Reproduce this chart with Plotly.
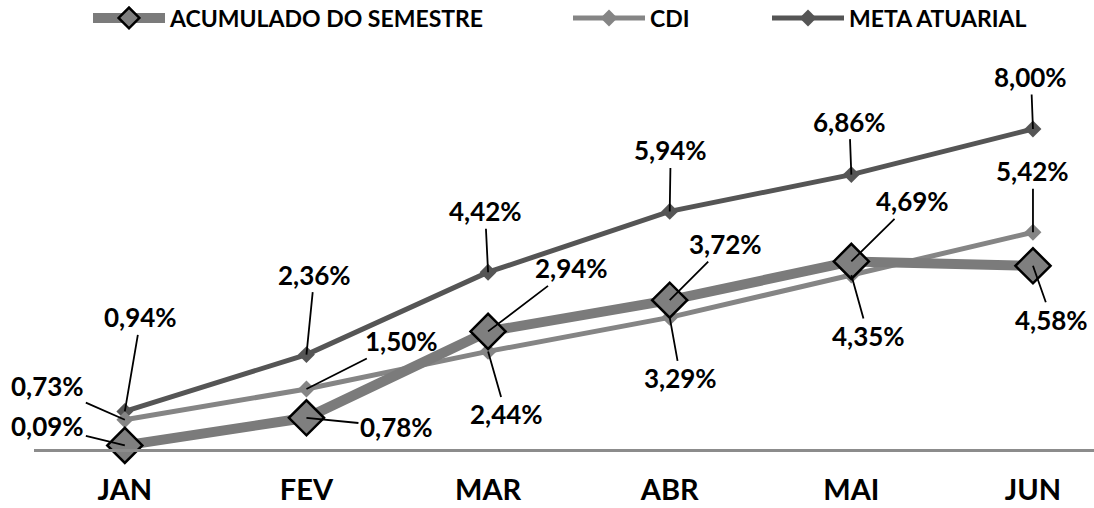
import plotly.graph_objects as go

months = ["JAN", "FEV", "MAR", "ABR", "MAI", "JUN"]
acumulado = [0.09, 0.78, 2.94, 3.72, 4.69, 4.58]
cdi = [0.73, 1.50, 2.44, 3.29, 4.35, 5.42]
meta = [0.94, 2.36, 4.42, 5.94, 6.86, 8.00]

# label offsets (pixels) for leader-line annotations
acum_off = [(-77, -19), (90, 9), (83, -63), (56, -56), (61, -60), (19, 54)]
cdi_off = [(-77, -34), (95, -48), (18, 63), (11, 61), (17, 61), (0, -61)]
meta_off = [(16, -94), (8, -80), (-3, -61), (1, -61), (-2, -53), (-2, -52)]

FONT = "Lato"

fig = go.Figure()
fig.add_trace(go.Scatter(
    x=months, y=meta, name="META ATUARIAL", mode="lines+markers",
    line=dict(color="#555555", width=5),
    marker=dict(symbol="diamond", size=13, color="#555555"),
    cliponaxis=False, legend="legend3"))
fig.add_trace(go.Scatter(
    x=months, y=cdi, name="CDI", mode="lines+markers",
    line=dict(color="#858585", width=5),
    marker=dict(symbol="diamond", size=13, color="#858585"),
    cliponaxis=False, legend="legend2"))
fig.add_trace(go.Scatter(
    x=months, y=acumulado, name="ACUMULADO DO SEMESTRE", mode="lines+markers",
    line=dict(color="#7b7b7b", width=10),
    marker=dict(symbol="diamond", size=27, color="#7f7f7f",
                line=dict(color="black", width=2.5)),
    cliponaxis=False, legend="legend"))

def fmt(v):
    return f"{v:.2f}%".replace(".", ",")

for series, offs in ((meta, meta_off), (cdi, cdi_off), (acumulado, acum_off)):
    for m, v, (ax, ay) in zip(months, series, offs):
        fig.add_annotation(
            x=m, y=v, text=fmt(v), showarrow=True, arrowhead=0,
            arrowwidth=1.8, arrowcolor="black", ax=ax, ay=ay,
            font=dict(family=FONT, size=26, color="black", weight="bold"))

legend_common = dict(orientation="h", xref="container", yref="container",
                     yanchor="middle", xanchor="left", bgcolor="rgba(0,0,0,0)",
                     font=dict(family=FONT, size=23, color="black", weight="bold"),
                     itemwidth=72)
fig.update_layout(
    width=1094, height=508,
    margin=dict(l=34, r=0, t=89, b=59),
    paper_bgcolor="white", plot_bgcolor="white",
    xaxis=dict(range=[-0.5, 5.336], showgrid=False, showline=True,
               linecolor="#8c8c8c", linewidth=3, ticks="", automargin=False,
               tickfont=dict(family=FONT, size=29, color="black", weight="bold"),
               ticklabelstandoff=13, zeroline=False),
    yaxis=dict(range=[0, 9], visible=False, showgrid=False, zeroline=False,
               automargin=False),
    legend=dict(x=88 / 1094, y=1 - 18 / 508, **legend_common),
    legend2=dict(x=568 / 1094, y=1 - 18 / 508, **legend_common),
    legend3=dict(x=767 / 1094, y=1 - 18 / 508, **legend_common),
    showlegend=True,
)

fig.write_html("out.html", config={"displayModeBar": False},
               post_script="document.body.style.margin='0';document.body.style.overflow='hidden';")
